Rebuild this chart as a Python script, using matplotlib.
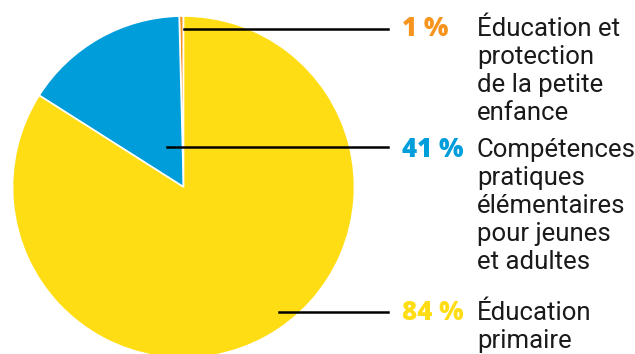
import matplotlib
matplotlib.use("Agg")
import matplotlib.pyplot as plt

# ---- data ----
categories = ["Éducation et protection de la petite enfance",
              "Compétences pratiques élémentaires pour jeunes et adultes",
              "Éducation primaire"]
label_lines = [["Éducation et", "protection", "de la petite", "enfance"],
               ["Compétences", "pratiques", "élémentaires", "pour jeunes", "et adultes"],
               ["Éducation", "primaire"]]
pct_labels = ["1 %", "41 %", "84 %"]
slice_values = [0.4, 15.6, 84.0]
colors = ["#F7941D", "#009DDB", "#FFDD15"]

W, H = 635, 354
fig = plt.figure(figsize=(W / 100, H / 100), dpi=100)
fig.patch.set_facecolor("white")

cx, cy, r = 183.5, 187, 171  # pixels from top-left


def fx(x):
    return x / W


def fy(y):
    return 1 - y / H


ax = fig.add_axes([fx(cx - r), fy(cy + r), 2 * r / W, 2 * r / H])
ax.pie(slice_values, colors=colors, startangle=90, counterclock=True,
       radius=1, wedgeprops=dict(edgecolor="white", linewidth=1.2))
ax.set_xlim(-1, 1)
ax.set_ylim(-1, 1)
ax.set_aspect("equal")
ax.axis("off")

# leader lines (pixel positions: start x, y)
leaders = [(184, 29), (167, 147), (279, 312)]
line_end = 388
first_baselines = [36, 157, 320]
spacing = 28
num_x = 402
text_x = 477

for i in range(3):
    sx, sy = leaders[i]
    fig.add_artist(plt.Line2D([fx(sx), fx(line_end)], [fy(sy), fy(sy)],
                              color="black", linewidth=1.8,
                              transform=fig.transFigure))
    fig.text(fx(num_x), fy(first_baselines[i]), pct_labels[i],
             color=colors[i], fontsize=18.5, fontweight=800,
             family=["Open Sans", "DejaVu Sans"], ha="left", va="baseline")
    for j, line in enumerate(label_lines[i]):
        fig.text(fx(text_x), fy(first_baselines[i] + j * spacing), line,
                 color="#1a1a1a", fontsize=18.5,
                 family=["Roboto", "DejaVu Sans"], ha="left", va="baseline")

fig.savefig("out.png", dpi=100, facecolor="white")
